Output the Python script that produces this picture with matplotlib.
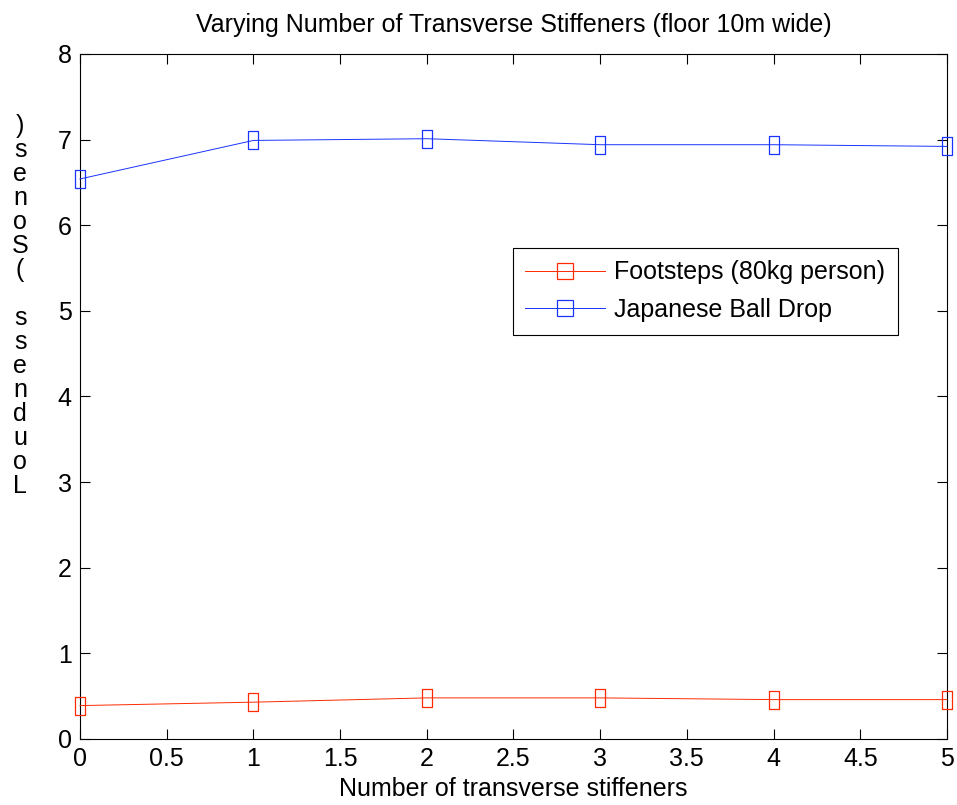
# loudness vs number of transverse stiffeners

import numpy as np
import matplotlib.pyplot as plt
import matplotlib.ticker as plticker
from matplotlib.path import Path
from matplotlib.lines import Line2D

plt.rcParams['font.family'] = ['Liberation Sans', 'DejaVu Sans']

# data
stiffeners = [0, 1, 2, 3, 4, 5]
footsteps = [0.39, 0.43, 0.48, 0.48, 0.46, 0.46]
ball_drop = [6.54, 6.99, 7.01, 6.94, 6.94, 6.92]
ylabel_text = 'Loudness (Sones)'
labels = ['Footsteps (80kg person)', 'Japanese Ball Drop']
red = '#ff2a00'
blue = '#1a33ff'

# narrow rectangle marker
rect = Path([(-0.29, -0.5), (0.29, -0.5), (0.29, 0.5), (-0.29, 0.5), (-0.29, -0.5)],
            [Path.MOVETO, Path.LINETO, Path.LINETO, Path.LINETO, Path.CLOSEPOLY])

fig = plt.figure(figsize=(9.57, 8.05), dpi=100)
ax = fig.add_axes([0.0836, 0.082, 0.9059, 0.851])

for yv, c in [(footsteps, red), (ball_drop, blue)]:
    ax.plot(stiffeners, yv, color=c, lw=0.7, marker=rect, ms=12.5,
            mfc='none', mec=c, mew=0.9, clip_on=False, zorder=3)

ax.set_xlim(0, 5)
ax.set_ylim(0, 8)
ax.xaxis.set_major_locator(plticker.MultipleLocator(0.5))
ax.yaxis.set_major_locator(plticker.MultipleLocator(1))
ax.xaxis.set_major_formatter(plticker.FormatStrFormatter('%g'))
ax.tick_params(direction='in', labelsize=18, length=7, top=True, right=True, pad=6)

ax.set_xlabel('Number of transverse stiffeners', fontsize=18, labelpad=4)
ax.set_title('Varying Number of Transverse Stiffeners (floor 10m wide)', fontsize=18, pad=16)

# y label drawn as stacked characters
fig.text(0.021, 0.858, '\n'.join(reversed(ylabel_text)), fontsize=18,
         ha='center', va='top', linespacing=1.0)

handles = [Line2D([], [], color=c, lw=0.7, marker='s', ms=12, mfc='none', mec=c, mew=0.9)
           for c in (red, blue)]
leg = ax.legend(handles, labels, loc='upper left', bbox_to_anchor=(0.499, 0.717),
                fontsize=18, fancybox=False, framealpha=1, edgecolor='black',
                handlelength=3.2, handletextpad=0.36, borderpad=0.5, labelspacing=0.55,
                borderaxespad=0)
leg.get_frame().set_linewidth(0.8)

plt.savefig('out.png', dpi=100)
plt.close()
